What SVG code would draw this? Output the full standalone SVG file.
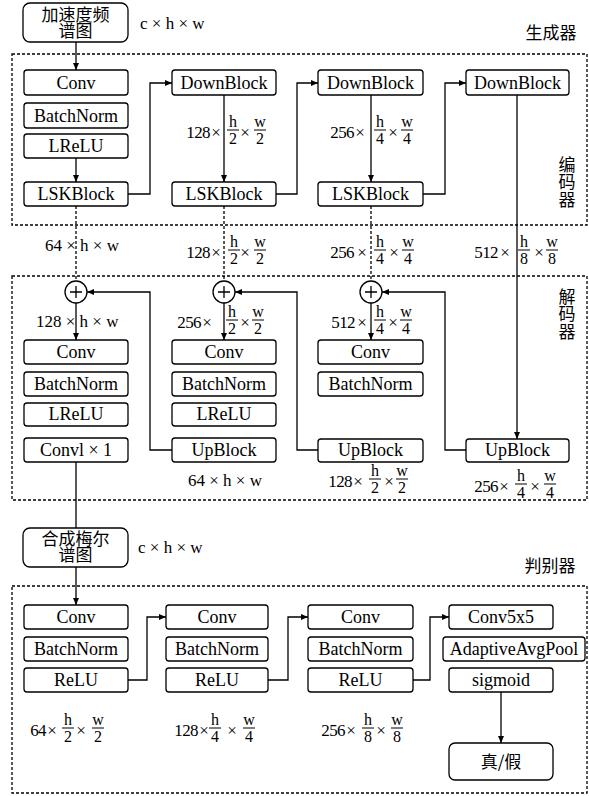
<svg xmlns="http://www.w3.org/2000/svg" width="589" height="796" viewBox="0 0 589 796">
<style>
.b{fill:#fff;stroke:#000;stroke-width:1.3}
.t{font-family:"Liberation Serif","Times New Roman",serif;font-size:18px;text-anchor:middle;fill:#000}
.l{font-family:"Liberation Serif","Times New Roman",serif;font-size:17px;fill:#000}
.f{font-family:"Liberation Serif","Times New Roman",serif;font-size:16px;text-anchor:middle;fill:#000}
.m{font-size:17px}
.fe{text-anchor:end;letter-spacing:-0.6px}
.c{font-family:"Noto Sans CJK SC",sans-serif;font-size:17px;text-anchor:middle;fill:#000}
.v{writing-mode:vertical-rl;text-anchor:start;letter-spacing:0.5px}
.k{fill:none;stroke:#000;stroke-width:1.3}
.d{stroke-dasharray:3 2}
.bar{stroke:#000;stroke-width:1}
.a{marker-end:url(#ah)}
</style>
<defs>
<marker id="ah" markerUnits="userSpaceOnUse" markerWidth="8" markerHeight="7" refX="7" refY="3" orient="auto">
<path d="M0,0 L7,3 L0,6 z" fill="#000"/>
</marker>
</defs>

<!-- container frames -->
<g id="frames">
<rect class="k d" x="12" y="54" width="575" height="171"/>
<rect class="k d" x="12" y="276" width="575" height="224"/>
<rect class="k d" x="12" y="586" width="575" height="207"/>
<text class="c" x="551" y="39" font-size="19">生成器</text>
<text class="c v" x="567" y="156">编码器</text>
<text class="c v" x="567" y="288">解码器</text>
<text class="c" x="550" y="572" font-size="19">判别器</text>
</g>

<!-- connectors -->
<g id="connectors">
<path class="k a" d="M76,42 V70"/>
<path class="k a" d="M76,158 V182"/>
<path class="k a" d="M128,194 H150 V83 H172"/>
<path class="k a" d="M224,95 V182"/>
<path class="k a" d="M276,194 H297 V83 H318"/>
<path class="k a" d="M371,95 V182"/>
<path class="k a" d="M423,194 H445 V83 H466"/>
<path class="k a" d="M517,95 V439"/>
<path class="k d" d="M76,206 V281"/>
<path class="k d" d="M224,206 V281"/>
<path class="k d" d="M371,206 V281"/>
<path class="k a" d="M76,303 V340"/>
<path class="k a" d="M224,303 V340"/>
<path class="k a" d="M371,303 V340"/>
<path class="k a" d="M172,450 H150 V292 H87"/>
<path class="k a" d="M318,450 H297 V292 H235"/>
<path class="k a" d="M466,450 H445 V292 H382"/>
<path class="k" d="M76,462 V528"/>
<path class="k a" d="M76,567 V605"/>
<path class="k a" d="M128,680 H147 V617 H166"/>
<path class="k a" d="M268,680 H288 V617 H308"/>
<path class="k a" d="M413,680 H430 V617 H449"/>
<path class="k a" d="M501,692 V743"/>
</g>

<!-- generator encoder -->
<g id="input">
<rect class="b" x="23" y="3" width="105" height="39" rx="7"/>
<text class="c" x="75.5" y="21" font-size="16.5">加速度频<tspan x="75.5" dy="16">谱图</tspan></text>
</g>
<text class="l" x="140" y="29">c × h × w</text>

<g id="enc1_conv"><rect class="b" x="24" y="70" width="104" height="25" rx="3"/><text class="t" x="76" y="89">Conv</text></g>
<g id="enc1_bn"><rect class="b" x="24" y="103" width="104" height="25" rx="3"/><text class="t" x="76" y="122">BatchNorm</text></g>
<g id="enc1_lrelu"><rect class="b" x="24" y="134" width="104" height="24" rx="3"/><text class="t" x="76" y="152">LReLU</text></g>
<g id="enc1_lsk"><rect class="b" x="24" y="182" width="104" height="24" rx="3"/><text class="t" x="76" y="200">LSKBlock</text></g>
<g id="enc2_down"><rect class="b" x="172" y="70" width="104" height="25" rx="3"/><text class="t" x="224" y="89">DownBlock</text></g>
<g id="enc2_lsk"><rect class="b" x="172" y="182" width="104" height="24" rx="3"/><text class="t" x="224" y="200">LSKBlock</text></g>
<g id="enc3_down"><rect class="b" x="318" y="70" width="105" height="25" rx="3"/><text class="t" x="370.5" y="89">DownBlock</text></g>
<g id="enc3_lsk"><rect class="b" x="318" y="182" width="105" height="24" rx="3"/><text class="t" x="370.5" y="200">LSKBlock</text></g>
<g id="enc4_down"><rect class="b" x="466" y="70" width="103" height="25" rx="3"/><text class="t" x="517.5" y="89">DownBlock</text></g>

<!-- encoder dimension labels -->
<g id="lbl_enc2">
<text class="f m fe" x="210" y="138">128</text><text class="f m" x="216" y="138">×</text>
<text class="f" x="233" y="127">h</text><line class="bar" x1="227" y1="130" x2="239" y2="130"/><text class="f" x="233" y="144">2</text>
<text class="f m" x="245" y="138">×</text>
<text class="f" x="260" y="127">w</text><line class="bar" x1="254" y1="130" x2="266" y2="130"/><text class="f" x="260" y="144">2</text>
</g>
<g id="lbl_enc3">
<text class="f m fe" x="354" y="138">256</text><text class="f m" x="360" y="138">×</text>
<text class="f" x="380" y="127">h</text><line class="bar" x1="374" y1="130" x2="386" y2="130"/><text class="f" x="380" y="144">4</text>
<text class="f m" x="393" y="138">×</text>
<text class="f" x="407" y="127">w</text><line class="bar" x1="401" y1="130" x2="413" y2="130"/><text class="f" x="407" y="144">4</text>
</g>

<!-- skip labels -->
<text class="l" x="45" y="251">64 × h × w</text>
<g id="lbl_skip2">
<text class="f m fe" x="210" y="258">128</text><text class="f m" x="216" y="258">×</text>
<text class="f" x="234" y="247">h</text><line class="bar" x1="228" y1="250" x2="240" y2="250"/><text class="f" x="234" y="264">2</text>
<text class="f m" x="245" y="258">×</text>
<text class="f" x="260" y="247">w</text><line class="bar" x1="254" y1="250" x2="266" y2="250"/><text class="f" x="260" y="264">2</text>
</g>
<g id="lbl_skip3">
<text class="f m fe" x="354" y="258">256</text><text class="f m" x="362" y="258">×</text>
<text class="f" x="380" y="247">h</text><line class="bar" x1="374" y1="250" x2="386" y2="250"/><text class="f" x="380" y="264">4</text>
<text class="f m" x="394" y="258">×</text>
<text class="f" x="408" y="247">w</text><line class="bar" x1="402" y1="250" x2="414" y2="250"/><text class="f" x="408" y="264">4</text>
</g>
<g id="lbl_skip4">
<text class="f m fe" x="498" y="258">512</text><text class="f m" x="505" y="258">×</text>
<text class="f" x="524" y="247">h</text><line class="bar" x1="518" y1="250" x2="530" y2="250"/><text class="f" x="524" y="264">8</text>
<text class="f m" x="539" y="258">×</text>
<text class="f" x="552" y="247">w</text><line class="bar" x1="546" y1="250" x2="558" y2="250"/><text class="f" x="552" y="264">8</text>
</g>

<!-- adders -->
<g id="add1"><circle class="b" cx="76" cy="292" r="11"/><path class="k" d="M70,292 H82 M76,286 V298" stroke-width="1"/></g>
<g id="add2"><circle class="b" cx="224" cy="292" r="11"/><path class="k" d="M218,292 H230 M224,286 V298" stroke-width="1"/></g>
<g id="add3"><circle class="b" cx="371" cy="292" r="11"/><path class="k" d="M365,292 H377 M371,286 V298" stroke-width="1"/></g>

<!-- decoder labels under adders -->
<text class="l" x="36" y="327">128 × h × w</text>
<g id="lbl_dec2">
<text class="f m fe" x="201" y="328">256</text><text class="f m" x="207" y="328">×</text>
<text class="f" x="232" y="317">h</text><line class="bar" x1="226" y1="320" x2="238" y2="320"/><text class="f" x="232" y="334">2</text>
<text class="f m" x="245" y="328">×</text>
<text class="f" x="258" y="317">w</text><line class="bar" x1="252" y1="320" x2="264" y2="320"/><text class="f" x="258" y="334">2</text>
</g>
<g id="lbl_dec3">
<text class="f m fe" x="355" y="328">512</text><text class="f m" x="362" y="328">×</text>
<text class="f" x="380" y="317">h</text><line class="bar" x1="374" y1="320" x2="386" y2="320"/><text class="f" x="380" y="334">4</text>
<text class="f m" x="393" y="328">×</text>
<text class="f" x="406" y="317">w</text><line class="bar" x1="400" y1="320" x2="412" y2="320"/><text class="f" x="406" y="334">4</text>
</g>

<!-- decoder nodes -->
<g id="dec1_conv"><rect class="b" x="24" y="340" width="104" height="24" rx="3"/><text class="t" x="76" y="358">Conv</text></g>
<g id="dec1_bn"><rect class="b" x="24" y="372" width="104" height="24" rx="3"/><text class="t" x="76" y="390">BatchNorm</text></g>
<g id="dec1_lrelu"><rect class="b" x="24" y="403" width="104" height="23" rx="3"/><text class="t" x="76" y="420">LReLU</text></g>
<g id="dec1_conv11"><rect class="b" x="24" y="438" width="104" height="24" rx="3"/><text class="t" x="76" y="456">Convl × 1</text></g>
<g id="dec2_conv"><rect class="b" x="172" y="340" width="104" height="24" rx="3"/><text class="t" x="224" y="358">Conv</text></g>
<g id="dec2_bn"><rect class="b" x="172" y="372" width="104" height="24" rx="3"/><text class="t" x="224" y="390">BatchNorm</text></g>
<g id="dec2_lrelu"><rect class="b" x="172" y="403" width="104" height="23" rx="3"/><text class="t" x="224" y="420">LReLU</text></g>
<g id="dec2_up"><rect class="b" x="172" y="438" width="104" height="24" rx="3"/><text class="t" x="224" y="456">UpBlock</text></g>
<g id="dec3_conv"><rect class="b" x="318" y="340" width="105" height="24" rx="3"/><text class="t" x="370.5" y="358">Conv</text></g>
<g id="dec3_bn"><rect class="b" x="318" y="372" width="105" height="24" rx="3"/><text class="t" x="370.5" y="390">BatchNorm</text></g>
<g id="dec3_up"><rect class="b" x="318" y="439" width="105" height="23" rx="3"/><text class="t" x="370.5" y="456">UpBlock</text></g>
<g id="dec4_up"><rect class="b" x="466" y="439" width="103" height="23" rx="3"/><text class="t" x="517.5" y="456">UpBlock</text></g>

<!-- labels under upblocks -->
<text class="l" x="188" y="486">64 × h × w</text>
<g id="lbl_up3">
<text class="f m fe" x="352" y="487">128</text><text class="f m" x="358" y="487">×</text>
<text class="f" x="375" y="476">h</text><line class="bar" x1="369" y1="479" x2="381" y2="479"/><text class="f" x="375" y="493">2</text>
<text class="f m" x="389" y="487">×</text>
<text class="f" x="402" y="476">w</text><line class="bar" x1="396" y1="479" x2="408" y2="479"/><text class="f" x="402" y="493">2</text>
</g>
<g id="lbl_up4">
<text class="f m fe" x="498" y="492">256</text><text class="f m" x="504" y="492">×</text>
<text class="f" x="521" y="481">h</text><line class="bar" x1="515" y1="484" x2="527" y2="484"/><text class="f" x="521" y="498">4</text>
<text class="f m" x="535" y="492">×</text>
<text class="f" x="550" y="481">w</text><line class="bar" x1="544" y1="484" x2="556" y2="484"/><text class="f" x="550" y="498">4</text>
</g>

<!-- synthesized mel -->
<g id="mel">
<rect class="b" x="23" y="528" width="105" height="39" rx="7"/>
<text class="c" x="75.5" y="545" font-size="16.5">合成梅尔<tspan x="75.5" dy="16">谱图</tspan></text>
</g>
<text class="l" x="138" y="553">c × h × w</text>

<!-- discriminator -->
<g id="dis1_conv"><rect class="b" x="24" y="605" width="104" height="24" rx="3"/><text class="t" x="76" y="623">Conv</text></g>
<g id="dis1_bn"><rect class="b" x="24" y="637" width="104" height="24" rx="3"/><text class="t" x="76" y="655">BatchNorm</text></g>
<g id="dis1_relu"><rect class="b" x="24" y="668" width="104" height="24" rx="3"/><text class="t" x="76" y="686">ReLU</text></g>
<g id="dis2_conv"><rect class="b" x="166" y="605" width="102" height="24" rx="3"/><text class="t" x="217" y="623">Conv</text></g>
<g id="dis2_bn"><rect class="b" x="166" y="637" width="102" height="24" rx="3"/><text class="t" x="217" y="655">BatchNorm</text></g>
<g id="dis2_relu"><rect class="b" x="166" y="668" width="102" height="24" rx="3"/><text class="t" x="217" y="686">ReLU</text></g>
<g id="dis3_conv"><rect class="b" x="308" y="605" width="105" height="24" rx="3"/><text class="t" x="360.5" y="623">Conv</text></g>
<g id="dis3_bn"><rect class="b" x="308" y="637" width="105" height="24" rx="3"/><text class="t" x="360.5" y="655">BatchNorm</text></g>
<g id="dis3_relu"><rect class="b" x="308" y="668" width="105" height="24" rx="3"/><text class="t" x="360.5" y="686">ReLU</text></g>
<g id="dis4_conv"><rect class="b" x="449" y="605" width="104" height="24" rx="3"/><text class="t" x="501" y="623">Conv5x5</text></g>
<g id="dis4_pool"><rect class="b" x="443" y="637" width="142" height="24" rx="3"/><text class="t" x="514" y="655">AdaptiveAvgPool</text></g>
<g id="dis4_sig"><rect class="b" x="449" y="668" width="104" height="24" rx="3"/><text class="t" x="501" y="686">sigmoid</text></g>
<g id="out"><rect class="b" x="449" y="743" width="104" height="37" rx="6"/><text class="c" x="501" y="768" font-size="18">真/假</text></g>

<g id="lbl_dis1">
<text class="f m fe" x="46" y="736">64</text><text class="f m" x="52" y="736">×</text>
<text class="f" x="68" y="725">h</text><line class="bar" x1="62" y1="728" x2="74" y2="728"/><text class="f" x="68" y="742">2</text>
<text class="f m" x="81" y="736">×</text>
<text class="f" x="98" y="725">w</text><line class="bar" x1="92" y1="728" x2="104" y2="728"/><text class="f" x="98" y="742">2</text>
</g>
<g id="lbl_dis2">
<text class="f m fe" x="198" y="736">128</text><text class="f m" x="204" y="736">×</text>
<text class="f" x="215" y="725">h</text><line class="bar" x1="209" y1="728" x2="221" y2="728"/><text class="f" x="215" y="742">4</text>
<text class="f m" x="232" y="736">×</text>
<text class="f" x="249" y="725">w</text><line class="bar" x1="243" y1="728" x2="255" y2="728"/><text class="f" x="249" y="742">4</text>
</g>
<g id="lbl_dis3">
<text class="f m fe" x="345" y="736">256</text><text class="f m" x="351" y="736">×</text>
<text class="f" x="368" y="725">h</text><line class="bar" x1="362" y1="728" x2="374" y2="728"/><text class="f" x="368" y="742">8</text>
<text class="f m" x="381" y="736">×</text>
<text class="f" x="397" y="725">w</text><line class="bar" x1="391" y1="728" x2="403" y2="728"/><text class="f" x="397" y="742">8</text>
</g>
</svg>
